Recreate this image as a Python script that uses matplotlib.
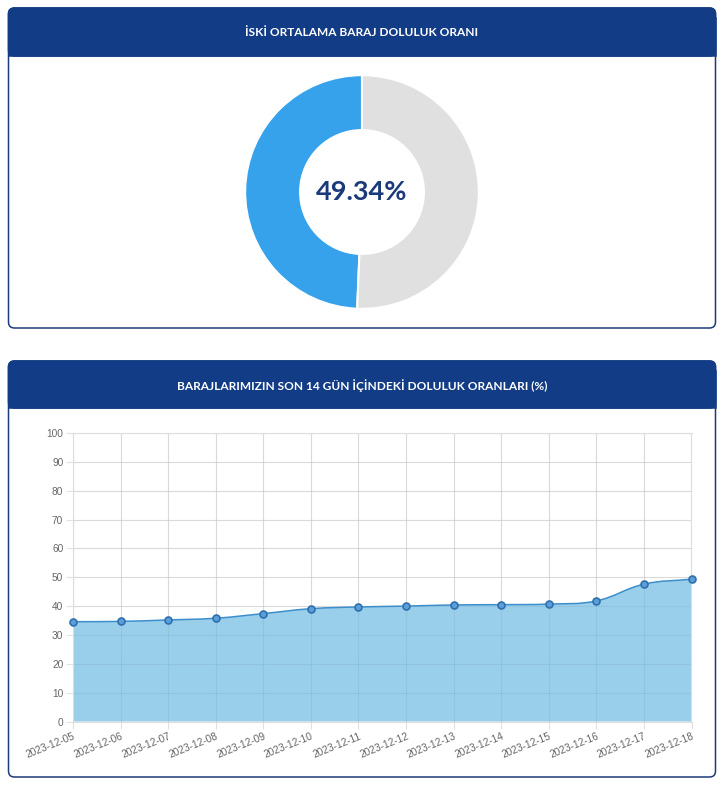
import matplotlib
matplotlib.use("Agg")
import matplotlib.pyplot as plt
import numpy as np
from matplotlib.patches import FancyBboxPatch, Rectangle, PathPatch
from matplotlib.path import Path

# data
fill_rate = 49.34
dates = ["2023-12-05", "2023-12-06", "2023-12-07", "2023-12-08", "2023-12-09",
         "2023-12-10", "2023-12-11", "2023-12-12", "2023-12-13", "2023-12-14",
         "2023-12-15", "2023-12-16", "2023-12-17", "2023-12-18"]
rates = [34.6, 34.7, 35.2, 35.8, 37.4, 39.1, 39.7, 40.0, 40.4, 40.5, 40.7, 41.8, 47.6, 49.34]
y_ticks = list(range(0, 101, 10))

title_top = "İSKİ ORTALAMA BARAJ DOLULUK ORANI"
title_bottom = "BARAJLARIMIZIN SON 14 GÜN İÇİNDEKİ DOLULUK ORANLARI (%)"

W, H = 721, 785
NAVY = "#123c85"
BORDER = "#1d3b7a"

fig = plt.figure(figsize=(W / 100, H / 100), dpi=100)
fig.patch.set_facecolor("white")


def px_axes(x0, y0, x1, y1, **kw):
    # axes from pixel box (top-left origin)
    return fig.add_axes([x0 / W, 1 - y1 / H, (x1 - x0) / W, (y1 - y0) / H], **kw)


# background layer with the cards
bg = px_axes(0, 0, W, H)
bg.set_xlim(0, W)
bg.set_ylim(H, 0)
bg.axis("off")
bg.set_zorder(-1)


def card(y0, y1, hdr, text):
    x0, x1 = 8.5, 715.5
    bg.add_patch(FancyBboxPatch((x0, y0), x1 - x0, y1 - y0,
                                boxstyle="round,pad=0,rounding_size=6",
                                fc="white", ec=BORDER, lw=1.1))
    bg.add_patch(FancyBboxPatch((x0, y0), x1 - x0, hdr - y0,
                                boxstyle="round,pad=0,rounding_size=6",
                                fc=NAVY, ec=NAVY, lw=1.1))
    bg.add_patch(Rectangle((x0, y0 + 10), x1 - x0, hdr - y0 - 10,
                           fc=NAVY, ec=NAVY, lw=1.1))
    bg.text((x0 + x1) / 2, (y0 + hdr) / 2 + 1, text, color="white",
            fontsize=8.6, fontweight="bold", family="Lato",
            ha="center", va="center")


card(8, 328, 56, title_top)
card(361, 777, 408, title_bottom)

# donut
ax_d = px_axes(244, 74, 480, 310)
ax_d.pie([fill_rate, 100 - fill_rate], colors=["#36a2eb", "#e0e0e0"],
         startangle=90, counterclock=True, radius=1,
         wedgeprops=dict(width=0.47, edgecolor="white", linewidth=1.5))
ax_d.set_xlim(-1.01, 1.01)
ax_d.set_ylim(-1.01, 1.01)
ax_d.set_aspect("equal")
ax_d.axis("off")
ax_d.text(0, 0, f"{fill_rate:.2f}%", ha="center", va="center",
          fontsize=19.5, fontweight="bold", family="Lato", color="#1b3a7a")

# line chart
ax = px_axes(73, 433, 691.5, 721.5)
x = np.arange(len(rates))
y = np.array(rates, dtype=float)
ax.set_xlim(0, len(rates) - 1)
ax.set_ylim(0, 100)

# chart.js-like spline control points (tension 0.4), distances in pixel space
sx = 618.5 / (len(rates) - 1)
sy = 288.5 / 100
t = 0.4
cp_before, cp_after = [], []
for i in range(len(x)):
    p = np.array([x[i], y[i]])
    prev = np.array([x[max(i - 1, 0)], y[max(i - 1, 0)]])
    nxt = np.array([x[min(i + 1, len(x) - 1)], y[min(i + 1, len(x) - 1)]])
    d01 = np.hypot((p[0] - prev[0]) * sx, (p[1] - prev[1]) * sy)
    d12 = np.hypot((nxt[0] - p[0]) * sx, (nxt[1] - p[1]) * sy)
    tot = d01 + d12 if d01 + d12 > 0 else 1
    fa = t * d01 / tot
    fb = t * d12 / tot
    cp_before.append(p - fa * (nxt - prev))
    cp_after.append(p + fb * (nxt - prev))

verts = [(x[0], y[0])]
codes = [Path.MOVETO]
for i in range(len(x) - 1):
    verts += [tuple(cp_after[i]), tuple(cp_before[i + 1]), (x[i + 1], y[i + 1])]
    codes += [Path.CURVE4] * 3

fill_verts = verts + [(x[-1], 0), (x[0], 0), (x[0], y[0])]
fill_codes = codes + [Path.LINETO, Path.LINETO, Path.CLOSEPOLY]
ax.add_patch(PathPatch(Path(fill_verts, fill_codes), fc="#9acfeb", ec="none", zorder=2))
ax.add_patch(PathPatch(Path(verts, codes), fc="none", ec="#3d8fcb", lw=1.1, zorder=3))
ax.plot(x, y, "o", ms=5, mfc="#5a9fd8", mec="#2f6fae", mew=1.2, zorder=4,
        clip_on=False)

ax.set_yticks(y_ticks)
ax.set_xticks(x)
ax.set_xticklabels(dates, rotation=22, ha="right", va="top",
                   rotation_mode="anchor")
ax.set_axisbelow(True)
ax.grid(True, color="#e6e6e6", lw=0.8)
for s in ax.spines.values():
    s.set_color("#dddddd")
    s.set_linewidth(0.8)
ax.tick_params(axis="both", length=5, color="#e0e0e0", labelcolor="#666666",
               labelsize=7.3, pad=2)
for lab in ax.get_xticklabels() + ax.get_yticklabels():
    lab.set_family("Liberation Sans")
# faint grid over the fill like chart.js
for gx in x:
    ax.axvline(gx, color="#000000", alpha=0.05, lw=0.8, zorder=2.5)
for gy in y_ticks:
    ax.axhline(gy, color="#000000", alpha=0.05, lw=0.8, zorder=2.5)

fig.savefig("out.png", dpi=100)
